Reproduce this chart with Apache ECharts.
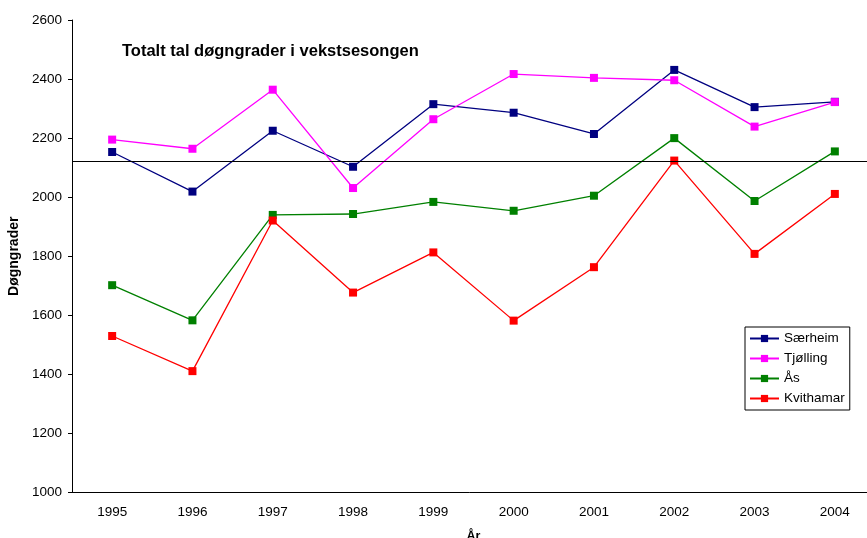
<!DOCTYPE html>
<html>
<head>
<meta charset="utf-8">
<script src="https://cdn.jsdelivr.net/npm/echarts@6/dist/echarts.min.js"></script>
<style>
html,body{margin:0;padding:0;background:#fff;}
#c{width:867px;height:538px;}
</style>
</head>
<body>
<div id="c"></div>
<script>
var years = ['1995','1996','1997','1998','1999','2000','2001','2002','2003','2004'];
var saerheim = [2153, 2019, 2225, 2103, 2315, 2286, 2214, 2431, 2305, 2323];
var tjolling = [2195, 2164, 2364, 2031, 2264, 2417, 2404, 2396, 2239, 2322];
var aas = [1702, 1583, 1940, 1943, 1984, 1954, 2005, 2200, 1987, 2155];
var kvithamar = [1530, 1411, 1921, 1677, 1813, 1582, 1763, 2124, 1808, 2011];
var referenceLine = 2121;
var yTicks = {min: 1000, max: 2600, interval: 200};

var FONT = '"Liberation Sans", Arial, sans-serif';
function mk(name, data, color, withRef) {
  var s = {
    name: name, type: 'line', data: data,
    symbol: 'rect', symbolSize: 8,
    lineStyle: {color: color, width: 1.3},
    itemStyle: {color: color},
    emphasis: {disabled: true},
    z: 3
  };
  if (withRef) {
    s.markLine = {
      silent: true, symbol: 'none', animation: false,
      label: {show: false},
      lineStyle: {color: '#000', width: 1, type: 'solid'},
      data: [{yAxis: referenceLine}]
    };
  }
  return s;
}
var chart = echarts.init(document.getElementById('c'));
chart.setOption({
  animation: false,
  backgroundColor: '#fff',
  textStyle: {fontFamily: FONT},
  title: {
    text: 'Totalt tal døgngrader i vekstsesongen',
    left: 117, top: 38,
    textStyle: {fontFamily: FONT, fontSize: 16.5, fontWeight: 'bold', color: '#000'}
  },
  legend: {
    orient: 'vertical',
    left: 745, top: 327,
    padding: [4, 5, 4, 4],
    itemGap: 5,
    itemWidth: 29, itemHeight: 9,
    borderColor: '#000', borderWidth: 1,
    backgroundColor: '#fff',
    textStyle: {fontFamily: FONT, fontSize: 13.5, color: '#000', lineHeight: 15},
    data: ['Særheim', 'Tjølling', 'Ås', 'Kvithamar']
  },
  grid: {left: 72, right: -8, top: 20, bottom: 45.5, outerBoundsMode: 'none', containLabel: false},
  xAxis: {
    type: 'category', data: years, boundaryGap: true,
    name: 'År', nameLocation: 'middle', nameGap: 38,
    nameTextStyle: {fontFamily: FONT, fontSize: 12.5, fontWeight: 'bold', color: '#000'},
    axisLine: {lineStyle: {color: '#000', width: 1}},
    axisTick: {inside: true, length: 4, lineStyle: {color: '#000'}},
    axisLabel: {fontFamily: FONT, fontSize: 13.5, color: '#000', margin: 13},
    splitLine: {show: false}
  },
  yAxis: {
    type: 'value', min: yTicks.min, max: yTicks.max, interval: yTicks.interval,
    name: 'Døgngrader', nameLocation: 'middle', nameGap: 48, nameRotate: 90,
    nameTextStyle: {fontFamily: FONT, fontSize: 14, fontWeight: 'bold', color: '#000'},
    axisLine: {show: true, lineStyle: {color: '#000', width: 1}},
    axisTick: {show: true, inside: false, length: 4, lineStyle: {color: '#000'}},
    axisLabel: {fontFamily: FONT, fontSize: 13.5, color: '#000', margin: 10,
      formatter: function (v) { return String(v); }},
    splitLine: {show: false}
  },
  series: [
    mk('Særheim', saerheim, '#000080', true),
    mk('Tjølling', tjolling, '#FF00FF'),
    mk('Ås', aas, '#008000'),
    mk('Kvithamar', kvithamar, '#FF0000')
  ]
});
</script>
</body>
</html>
